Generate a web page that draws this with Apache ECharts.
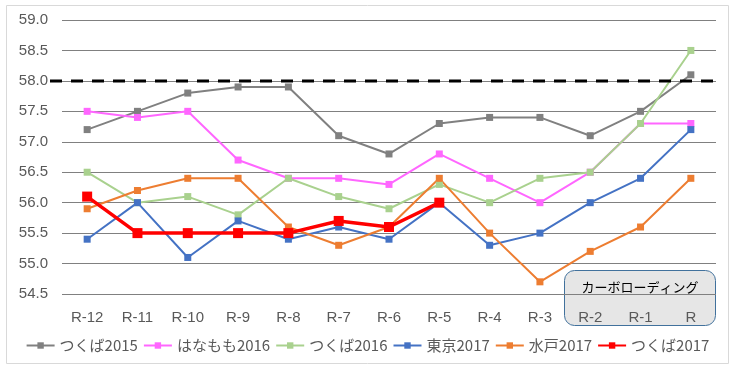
<!DOCTYPE html>
<html><head><meta charset="utf-8">
<script src="https://cdn.jsdelivr.net/npm/echarts@6/dist/echarts.min.js"></script>
<style>html,body{margin:0;padding:0;background:#fff}#c{width:735px;height:369px}</style>
</head><body><div id="c"></div>
<script>
const categories = ['R-12','R-11','R-10','R-9','R-8','R-7','R-6','R-5','R-4','R-3','R-2','R-1','R'];
const tsukuba2015 = [57.2,57.5,57.8,57.9,57.9,57.1,56.8,57.3,57.4,57.4,57.1,57.5,58.1];
const hanamomo2016 = [57.5,57.4,57.5,56.7,56.4,56.4,56.3,56.8,56.4,56.0,56.5,57.3,57.3];
const tsukuba2016 = [56.5,56.0,56.1,55.8,56.4,56.1,55.9,56.3,56.0,56.4,56.5,57.3,58.5];
const tokyo2017 = [55.4,56.0,55.1,55.7,55.4,55.6,55.4,56.0,55.3,55.5,56.0,56.4,57.2];
const mito2017 = [55.9,56.2,56.4,56.4,55.6,55.3,55.6,56.4,55.5,54.7,55.2,55.6,56.4];
const tsukuba2017 = [56.1,55.5,55.5,55.5,55.5,55.7,55.6,56.0,null,null,null,null,null];
const targetLine = 58.0;
const boxLabel = 'カーボローディング';

const jp = '"Noto Sans CJK JP", "Liberation Sans", sans-serif';
function mk(name, data, color, lw, sym) {
  return {name, type:'line', data, symbol:'rect', symbolSize:sym, showSymbol:true,
    lineStyle:{color, width:lw}, itemStyle:{color}, connectNulls:false, animation:false, z:3};
}
const chart = echarts.init(document.getElementById('c'));
const series = [
  mk('つくば2015', tsukuba2015, '#808080', 2, 7),
  mk('はなもも2016', hanamomo2016, '#FF66FF', 2, 7),
  mk('つくば2016', tsukuba2016, '#A9D18E', 2, 7),
  mk('東京2017', tokyo2017, '#4472C4', 2, 7),
  mk('水戸2017', mito2017, '#ED7D31', 2, 7),
  mk('つくば2017', tsukuba2017, '#FF0000', 3.5, 10)
];
const baseGraphics = [
  {type:'rect', z:-1, shape:{x:6.5, y:5.5, width:722, height:358}, style:{fill:'none', stroke:'#d9d9d9', lineWidth:1}},
  {type:'rect', z:-1, shape:{x:564.5, y:270.5, width:151, height:55, r:10}, style:{fill:'#E6E6E6', stroke:'#41719C', lineWidth:1}},
  {type:'text', z:5, x:640, y:287, style:{text:boxLabel, fill:'#000', font:'13px "Noto Sans CJK JP", sans-serif', textAlign:'center', textVerticalAlign:'middle'}}
];
chart.setOption({
  animation:false,
  grid:{left:62, right:19, top:20, bottom:75},
  xAxis:{type:'category', data:categories, boundaryGap:true,
    axisLine:{show:false}, axisTick:{show:false},
    axisLabel:{color:'#595959', fontSize:15, fontFamily:'"Liberation Sans", sans-serif', margin:16}},
  yAxis:{type:'value', min:54.5, max:59, interval:0.5,
    axisLine:{show:false}, axisTick:{show:false},
    splitLine:{lineStyle:{color:'#808080', width:1}},
    axisLabel:{color:'#595959', fontSize:15, fontFamily:'"Liberation Sans", sans-serif', margin:14,
      formatter:v=>v.toFixed(1)}},
  legend:{bottom:11, left:'center', itemWidth:28, itemHeight:8, itemGap:5,
    textStyle:{color:'#595959', fontSize:15, fontFamily:jp}},
  graphic:baseGraphics,
  series
});
const yT = chart.convertToPixel({yAxisIndex:0}, targetLine);
const xR = chart.convertToPixel({xAxisIndex:0}, 'R') + 26;
chart.setOption({graphic: baseGraphics.concat([
  {type:'line', z:4, shape:{x1:50, y1:yT, x2:xR, y2:yT}, style:{stroke:'#000', lineWidth:3, lineDash:[12,9]}}
])});
</script></body></html>
